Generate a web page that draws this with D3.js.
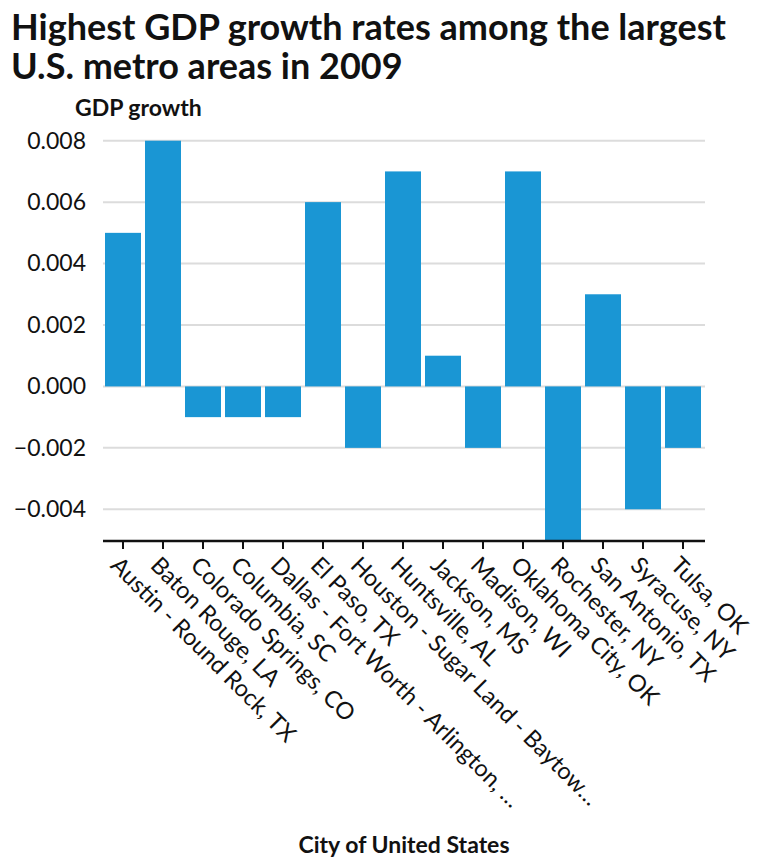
<!DOCTYPE html>
<html>
<head>
<meta charset="utf-8">
<script src="https://cdn.jsdelivr.net/npm/d3@7"></script>
<style>
  html, body { margin: 0; padding: 0; background: #fff; }
  svg { display: block; font-family: Lato, "Noto Sans", sans-serif; }
</style>
</head>
<body>
<svg id="chart" width="766" height="868"></svg>
<script>
const titleLines = ["Highest GDP growth rates among the largest", "U.S. metro areas in 2009"];
const yAxisTitle = "GDP growth";
const xAxisTitle = "City of United States";
const cities = [
  "Austin - Round Rock, TX", "Baton Rouge, LA", "Colorado Springs, CO", "Columbia, SC",
  "Dallas - Fort Worth - Arlington, …", "El Paso, TX", "Houston - Sugar Land - Baytow…",
  "Huntsville, AL", "Jackson, MS", "Madison, WI", "Oklahoma City, OK", "Rochester, NY",
  "San Antonio, TX", "Syracuse, NY", "Tulsa, OK"
];
const gdpGrowth = [0.005, 0.008, -0.001, -0.001, -0.001, 0.006, -0.002, 0.007, 0.001, -0.002, 0.007, -0.005, 0.003, -0.004, -0.002];
const yTicks = [-0.004, -0.002, 0, 0.002, 0.004, 0.006, 0.008];

const svg = d3.select("#chart");
const mLeft = 103, mRight = 703, mTop = 140.7, mBottom = 540;

const x = d3.scaleBand().domain(cities).range([mLeft, mRight]).paddingInner(0.1).paddingOuter(0.05);
const y = d3.scaleLinear().domain([-0.005, 0.008]).range([mBottom, mTop]);

// title (two separate lines)
svg.append("g")
  .style("font-weight", 700).style("font-size", "36px").attr("fill", "#111")
  .selectAll("text").data(titleLines).join("text")
  .attr("x", 11).attr("y", (d, i) => 40 + i * 39).text(d => d);

// y axis title
svg.append("text").attr("x", 75).attr("y", 116)
  .style("font-weight", 700).style("font-size", "23px").attr("fill", "#111")
  .text(yAxisTitle);

// gridlines
svg.append("g").selectAll("line").data(yTicks).join("line")
  .attr("x1", mLeft).attr("x2", 705)
  .attr("y1", d => y(d)).attr("y2", d => y(d))
  .attr("stroke", "#dcdcdc").attr("stroke-width", 2);

// y axis
const yAxis = svg.append("g").attr("transform", `translate(${mLeft},0)`)
  .call(d3.axisLeft(y).tickValues(yTicks).tickFormat(d3.format(".3f")).tickSize(0).tickPadding(17));
yAxis.select(".domain").remove();
yAxis.selectAll("text").style("font-size", "23px").style("font-family", "Lato, sans-serif").attr("fill", "#111")
  .text(d => d3.format(".3f")(d).replace("-", "\u2212"));

// bars
svg.append("g").selectAll("rect").data(cities).join("rect")
  .attr("x", d => x(d))
  .attr("width", x.bandwidth())
  .attr("y", (d, i) => y(Math.max(0, gdpGrowth[i])))
  .attr("height", (d, i) => Math.abs(y(gdpGrowth[i]) - y(0)))
  .attr("fill", "#1a96d4");

// x axis
const xAxis = svg.append("g").attr("transform", `translate(0,${mBottom + 1})`)
  .call(d3.axisBottom(x).tickSize(8).tickSizeOuter(0));
xAxis.select(".domain").attr("stroke", "#111").attr("stroke-width", 2.5).attr("d", `M${mLeft},0H705`);
xAxis.selectAll(".tick line").attr("stroke", "#111").attr("stroke-width", 2);
xAxis.selectAll(".tick text")
  .style("font-size", "23.5px").style("font-family", "Lato, sans-serif").attr("fill", "#111")
  .attr("text-anchor", "start")
  .attr("x", 0).attr("y", 0).attr("dy", "0.35em")
  .attr("transform", "translate(-8,20) rotate(45)");

// x axis title
svg.append("text").attr("x", 404).attr("y", 853).attr("text-anchor", "middle")
  .style("font-weight", 700).style("font-size", "23px").attr("fill", "#111")
  .text(xAxisTitle);
</script>
</body>
</html>
